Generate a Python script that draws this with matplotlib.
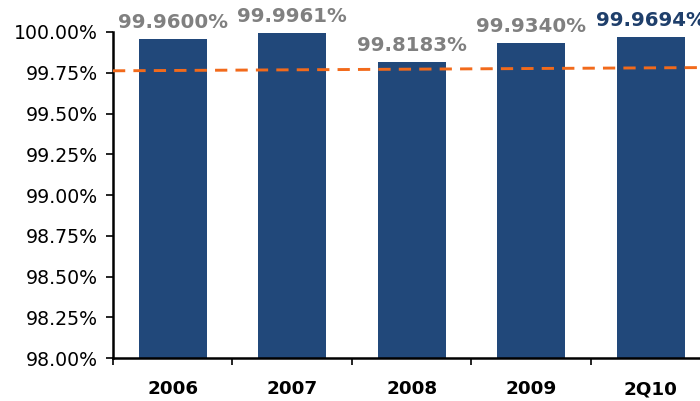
import matplotlib
matplotlib.use('Agg')
import matplotlib.pyplot as plt
from matplotlib.ticker import FixedLocator, FuncFormatter
import numpy as np

plt.rcParams['font.family'] = ['DejaVu Sans']

periods = ['2006', '2007', '2008', '2009', '2Q10']
uptime = [99.9600, 99.9961, 99.8183, 99.9340, 99.9694]
labels = ['99.9600%', '99.9961%', '99.8183%', '99.9340%', '99.9694%']
label_colors = ['#808080', '#808080', '#808080', '#808080', '#1F3F6B']
# dashed target line, value at left and right edge of the plot
target_ends = [99.762, 99.782]

BAR_COLOR = '#21487A'
LINE_COLOR = '#F26A1B'

fig = plt.figure(figsize=(7.0, 4.01), dpi=100)
ax = fig.add_axes([0.1614, 0.1072, 0.8536, 0.8130])

x = np.arange(len(periods))
ax.bar(x, [v - 98 for v in uptime], bottom=98, width=0.57, color=BAR_COLOR, zorder=2)

for xi, v, lab, c in zip(x, uptime, labels, label_colors):
    ax.annotate(lab, (xi, v), xytext=(0, 5), textcoords='offset points',
                ha='center', va='bottom', fontsize=14.2, fontweight='bold',
                color=c, annotation_clip=False)

ax.plot([-0.5, len(periods) - 0.5], target_ends, color=LINE_COLOR,
        linestyle=(0, (4.2, 2.8)), linewidth=2.1, zorder=3)

ax.set_xlim(-0.5, len(periods) - 0.5)
ax.set_ylim(98, 100)
ax.yaxis.set_major_locator(FixedLocator(np.arange(98, 100.01, 0.25)))
ax.yaxis.set_major_formatter(FuncFormatter(lambda v, p: f'{v:.2f}%'))
ax.tick_params(axis='y', labelsize=13.6, length=5, width=1.2, pad=6)

ax.set_xticks(x)
ax.set_xticklabels(periods, fontsize=13.2, fontweight='bold')
ax.xaxis.set_minor_locator(FixedLocator(np.arange(-0.5, len(periods), 1.0)))
ax.tick_params(axis='x', which='major', length=0, pad=16)
ax.tick_params(axis='x', which='minor', length=5, width=1.2)

for s in ['top', 'right']:
    ax.spines[s].set_visible(False)
for s in ['left', 'bottom']:
    ax.spines[s].set_linewidth(1.8)

plt.savefig('out.png', dpi=100, facecolor='white')
